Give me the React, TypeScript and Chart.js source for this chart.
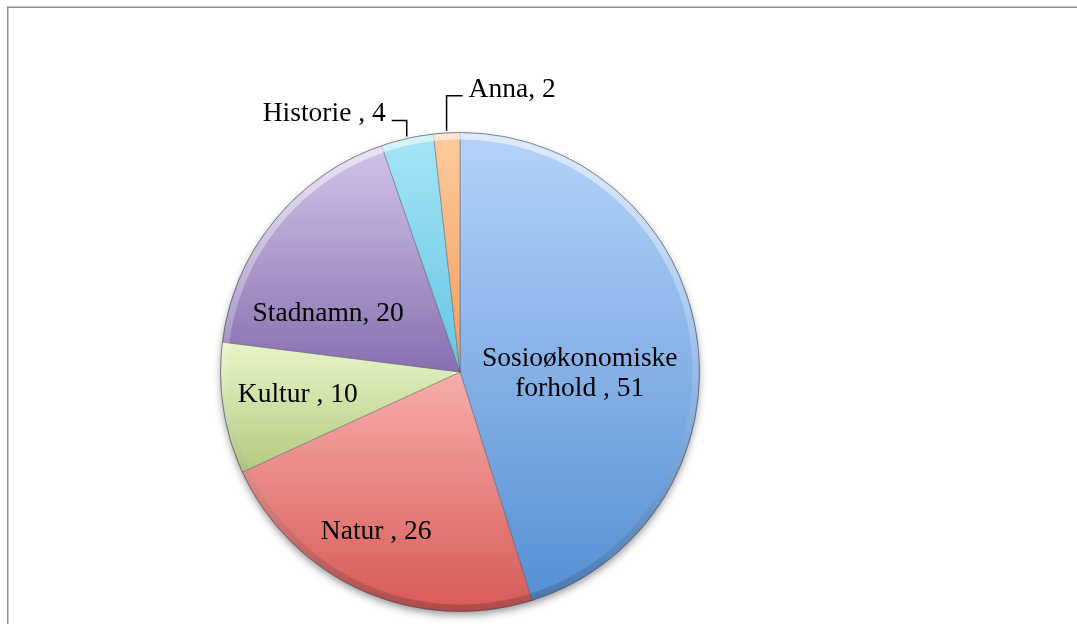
import React, { useEffect, useRef } from "react";
import { Chart, registerables } from "chart.js";

Chart.register(...registerables);

// ---- data ----
const categories = ["Sosioøkonomiske\nforhold", "Natur", "Kultur", "Stadnamn", "Historie", "Anna"];
const values = [51, 26, 10, 20, 4, 2];
const commaGap = [" ", " ", " ", "", " ", ""];

// ---- styles ----
const topColors = ["#b6d3f9", "#f8aeac", "#e8f5c8", "#d2c4e8", "#a6e6f7", "#fdcb9e"];
const bottomColors = ["#5690d4", "#d65a56", "#b4cb80", "#8870b0", "#66c4e2", "#f39d5c"];
// inside labels: [angle from top in degrees, fraction of radius]; outside: null
const insidePlacement: ([number, number] | null)[] = [[90, 0.5], [208, 0.745], [262.6, 0.683], [294.5, 0.605], null, null];
// outside labels: [elbow rise in px, horizontal run in px, side]
const outsidePlacement: ([number, number, number] | null)[] = [null, null, null, null, [16, 15, -1], [35, 16, 1]];

const FONT_FAMILY = "'Liberation Serif', 'Times New Roman', serif";
const FONT_SIZE = 27.5;

function pieGeom(chart: any) {
  const a = chart.chartArea;
  const cx = (a.left + a.right) / 2;
  const cy = (a.top + a.bottom) / 2;
  const r = Math.min(a.right - a.left, a.bottom - a.top) / 2 - 0.5;
  return { cx, cy, r };
}

function sliceAngles(i: number) {
  const total = values.reduce((s, v) => s + v, 0);
  let acc = 0;
  for (let k = 0; k < i; k++) acc += values[k];
  const a0 = (acc / total) * 360;
  const a1 = ((acc + values[i]) / total) * 360;
  return [a0, a1];
}

function pt(cx: number, cy: number, r: number, deg: number) {
  const t = (deg * Math.PI) / 180;
  return [cx + r * Math.sin(t), cy - r * Math.cos(t)];
}

const framePlugin = {
  id: "frame",
  beforeDraw(chart: any) {
    const ctx = chart.ctx;
    ctx.save();
    ctx.strokeStyle = "#8f8f8f";
    ctx.lineWidth = 1.5;
    ctx.beginPath();
    ctx.moveTo(7.75, chart.height);
    ctx.lineTo(7.75, 7.25);
    ctx.lineTo(chart.width, 7.25);
    ctx.stroke();
    ctx.restore();
  },
  beforeDatasetsDraw(chart: any) {
    const { cx, cy, r } = pieGeom(chart);
    const ctx = chart.ctx;
    ctx.save();
    ctx.shadowColor = "rgba(0,0,0,0.45)";
    ctx.shadowBlur = 9;
    ctx.shadowOffsetX = 0;
    ctx.shadowOffsetY = 4;
    ctx.fillStyle = "#ffffff";
    ctx.beginPath();
    ctx.arc(cx, cy, r - 1, 0, Math.PI * 2);
    ctx.fill();
    ctx.restore();
  },
  afterDatasetsDraw(chart: any) {
    const { cx, cy, r } = pieGeom(chart);
    const ctx = chart.ctx;
    // bevel rim
    ctx.save();
    ctx.beginPath();
    ctx.arc(cx, cy, r, 0, Math.PI * 2);
    ctx.clip();
    const g = ctx.createLinearGradient(0, cy - r, 0, cy + r);
    g.addColorStop(0, "rgba(255,255,255,0.55)");
    g.addColorStop(0.5, "rgba(255,255,255,0.15)");
    g.addColorStop(1, "rgba(0,0,0,0.18)");
    ctx.strokeStyle = g;
    ctx.lineWidth = 7;
    ctx.beginPath();
    ctx.arc(cx, cy, r - 3.5, 0, Math.PI * 2);
    ctx.stroke();
    ctx.restore();
    ctx.save();
    ctx.strokeStyle = "rgba(70,70,90,0.45)";
    ctx.lineWidth = 1;
    ctx.beginPath();
    ctx.arc(cx, cy, r, 0, Math.PI * 2);
    ctx.stroke();
    ctx.restore();

    // labels
    ctx.save();
    ctx.fillStyle = "#000000";
    ctx.font = `${FONT_SIZE}px ${FONT_FAMILY}`;
    ctx.textBaseline = "alphabetic";
    const capHalf = FONT_SIZE * 0.33;
    const lineH = 30.5;
    for (let i = 0; i < values.length; i++) {
      const parts = categories[i].split("\n");
      parts[parts.length - 1] = parts[parts.length - 1] + commaGap[i] + ", " + values[i];
      const inside = insidePlacement[i];
      if (inside) {
        const [lx, ly] = pt(cx, cy, r * inside[1], inside[0]);
        ctx.textAlign = "center";
        const n = parts.length;
        parts.forEach((line, k) => {
          const by = ly + capHalf + (k - (n - 1) / 2) * lineH;
          ctx.fillText(line, lx, by);
        });
      } else {
        const out = outsidePlacement[i]!;
        const [a0, a1] = sliceAngles(i);
        const mid = (a0 + a1) / 2;
        const [px, py] = pt(cx, cy, r + 2, mid);
        const ey = py - out[0];
        const ex = px + out[2] * out[1];
        ctx.strokeStyle = "#000000";
        ctx.lineWidth = 1.5;
        ctx.beginPath();
        ctx.moveTo(px, py);
        ctx.lineTo(px, ey);
        ctx.lineTo(ex, ey);
        ctx.stroke();
        ctx.textAlign = out[2] < 0 ? "right" : "left";
        ctx.fillText(parts.join(" "), ex + out[2] * 6, ey + 1);
      }
    }
    ctx.restore();
  },
};

export default function App() {
  const ref = useRef<HTMLCanvasElement | null>(null);
  useEffect(() => {
    if (!ref.current) return;
    const chart = new Chart(ref.current, {
      type: "pie",
      data: {
        labels: categories.map((c) => c.replace("\n", " ")),
        datasets: [
          {
            data: values,
            backgroundColor: (ctx: any) => {
              const i = ctx.dataIndex;
              const chart = ctx.chart;
              if (i === undefined || !chart.chartArea) return topColors[0];
              const { cx, cy, r } = pieGeom(chart);
              const [a0, a1] = sliceAngles(i);
              const ys = [cy, pt(cx, cy, r, a0)[1], pt(cx, cy, r, a1)[1]];
              if (a0 <= 0.001) ys.push(cy - r);
              if (a0 <= 180 && a1 >= 180) ys.push(cy + r);
              const y0 = Math.min(...ys);
              const y1 = Math.max(...ys);
              const g = chart.ctx.createLinearGradient(0, y0, 0, y1);
              g.addColorStop(0, topColors[i]);
              g.addColorStop(1, bottomColors[i]);
              return g;
            },
            borderColor: "rgba(60,60,80,0.35)",
            borderWidth: 1,
          },
        ],
      },
      options: {
        responsive: false,
        animation: false,
        layout: { padding: { left: 220, right: 377, top: 132, bottom: 12 } },
        plugins: {
          legend: { display: false },
          tooltip: { enabled: false },
        },
      },
      plugins: [framePlugin],
    });
    return () => chart.destroy();
  }, []);
  return (
    <div style={{ position: "fixed", left: 0, top: 0, width: 1077, height: 624, background: "#ffffff" }}>
      <canvas ref={ref} width={1077} height={624} style={{ width: 1077, height: 624, display: "block" }} />
    </div>
  );
}
